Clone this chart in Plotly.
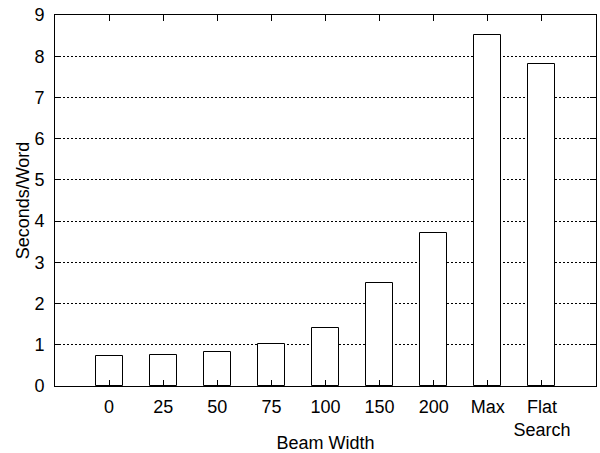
import plotly.graph_objects as go

categories = ["0", "25", "50", "75", "100", "150", "200", "Max", "Flat<br>Search"]
seconds_per_word = [0.73, 0.75, 0.82, 1.01, 1.40, 2.51, 3.71, 8.51, 7.81]
y_ticks = [0, 1, 2, 3, 4, 5, 6, 7, 8, 9]

fig = go.Figure()
fig.add_trace(go.Bar(
    x=list(range(len(categories))),
    y=seconds_per_word,
    width=0.5,
    marker=dict(color="white", line=dict(color="black", width=1)),
))

font = dict(family="Liberation Sans, Arial, sans-serif", size=18, color="black")

fig.update_layout(
    width=600, height=453,
    margin=dict(l=55, r=4, t=15, b=67),
    plot_bgcolor="white", paper_bgcolor="white",
    font=font,
    showlegend=False,
    bargap=0,
)
fig.update_xaxes(
    range=[-1, 9],
    tickmode="array",
    tickvals=list(range(len(categories))),
    ticktext=categories,
    ticks="inside", ticklen=6, tickcolor="black",
    showline=True, linecolor="black", linewidth=1, mirror="ticks",
    showgrid=False, zeroline=False,
    automargin=False,
    ticklabelstandoff=4,
    tickfont=font,
    title=dict(text="Beam Width", font=font, standoff=6),
)
fig.update_yaxes(
    range=[0, 9],
    tickmode="array",
    tickvals=y_ticks,
    ticks="inside", ticklen=6, tickcolor="black",
    showline=True, linecolor="black", linewidth=1, mirror="ticks",
    showgrid=True, gridcolor="black", gridwidth=1, griddash="2px,2px",
    zeroline=False,
    automargin=False,
    ticklabelstandoff=6,
    tickfont=font,
    title=dict(text="Seconds/Word", font=font, standoff=0),
)

fig.write_html("out.html", config={"displayModeBar": False},
               post_script="document.body.style.margin='0';")
